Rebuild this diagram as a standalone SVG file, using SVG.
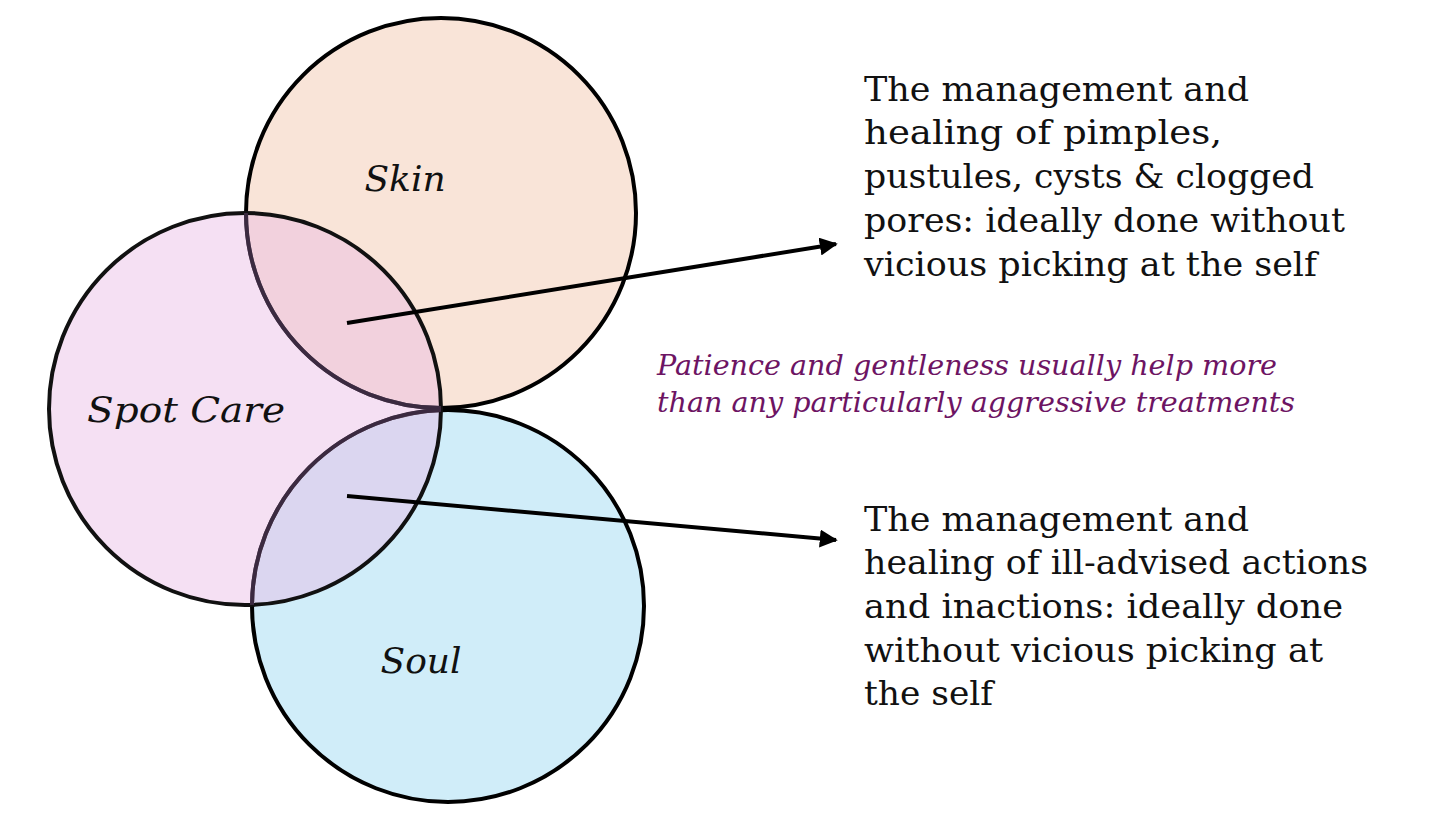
<svg xmlns="http://www.w3.org/2000/svg" width="1456" height="819" viewBox="0 0 1456 819">
<defs>
<style>
.body{font-family:"DejaVu Serif","Liberation Serif",serif;font-size:33px;fill:#111}
.lab{font-family:"DejaVu Serif","Liberation Serif",serif;font-style:italic;font-size:36px;fill:#111}
.note{font-family:"DejaVu Serif","Liberation Serif",serif;font-style:italic;font-size:27px;fill:#6d1463}
.conn{stroke:#000;stroke-width:4;fill:none}
.inner{fill:none;stroke:#3b2a40;stroke-width:4}
</style>
<clipPath id="spotClip"><circle cx="245" cy="409" r="196"/></clipPath>
<marker id="ah" viewBox="0 0 10 10" refX="9" refY="5" markerWidth="4.5" markerHeight="4.5" orient="auto" markerUnits="strokeWidth">
<path d="M0,0 L10,5 L0,10 z" fill="#000"/>
</marker>
</defs>
<rect width="1456" height="819" fill="#fff"/>
<g id="skin">
<circle cx="441" cy="213" r="195" fill="#f9e4d8" stroke="#000" stroke-width="4"/>
<text class="lab" x="405" y="191" text-anchor="middle">Skin</text>
</g>
<g id="soul">
<circle cx="448" cy="606" r="196" fill="#d0edf9" stroke="#000" stroke-width="4"/>
<text class="lab" x="421" y="673" text-anchor="middle">Soul</text>
</g>
<g id="spot-care">
<circle cx="245" cy="409" r="196" fill="#e9bae4" fill-opacity="0.45" stroke="#111" stroke-width="4"/>
<g clip-path="url(#spotClip)">
<circle class="inner" cx="441" cy="213" r="195"/>
<circle class="inner" cx="448" cy="606" r="196"/>
</g>
<text class="lab" x="186" y="422" text-anchor="middle" textLength="198" lengthAdjust="spacingAndGlyphs">Spot Care</text>
</g>
<g id="connectors">
<line class="conn" x1="347" y1="323" x2="836" y2="244" marker-end="url(#ah)"/>
<line class="conn" x1="347" y1="496" x2="836" y2="540" marker-end="url(#ah)"/>
</g>
<g id="skin-text">
<text class="body" x="864" y="101" textLength="385" lengthAdjust="spacingAndGlyphs">The management and</text>
<text class="body" x="864" y="144" textLength="358" lengthAdjust="spacingAndGlyphs">healing of pimples,</text>
<text class="body" x="864" y="188" textLength="450" lengthAdjust="spacingAndGlyphs">pustules, cysts &amp; clogged</text>
<text class="body" x="864" y="232" textLength="481" lengthAdjust="spacingAndGlyphs">pores: ideally done without</text>
<text class="body" x="864" y="276" textLength="453" lengthAdjust="spacingAndGlyphs">vicious picking at the self</text>
</g>
<g id="note">
<text class="note" x="657" y="375" textLength="620" lengthAdjust="spacingAndGlyphs">Patience and gentleness usually help more</text>
<text class="note" x="657" y="412" textLength="638" lengthAdjust="spacingAndGlyphs">than any particularly aggressive treatments</text>
</g>
<g id="soul-text">
<text class="body" x="864" y="531" textLength="385" lengthAdjust="spacingAndGlyphs">The management and</text>
<text class="body" x="864" y="574" textLength="504" lengthAdjust="spacingAndGlyphs">healing of ill-advised actions</text>
<text class="body" x="864" y="618" textLength="479" lengthAdjust="spacingAndGlyphs">and inactions: ideally done</text>
<text class="body" x="864" y="662" textLength="459" lengthAdjust="spacingAndGlyphs">without vicious picking at</text>
<text class="body" x="864" y="705" textLength="129" lengthAdjust="spacingAndGlyphs">the self</text>
</g>
</svg>
